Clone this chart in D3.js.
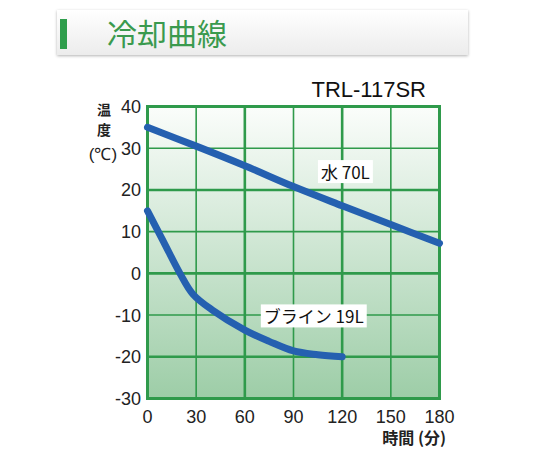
<!DOCTYPE html>
<meta charset="utf-8">
<style>
body { margin: 0; background: #fff; }
</style>
<script src="https://d3js.org/d3.v7.min.js"></script>
<body>
<script>

// values
var xTicks = [0, 30, 60, 90, 120, 150, 180];
var yTicks = [-30, -20, -10, 0, 10, 20, 30, 40];
var waterTime = [0, 30, 60, 90, 120, 150, 180];
var waterTemp = [35, 30.5, 25.8, 20.8, 16.2, 11.7, 7.2];
var brineTime = [0, 10, 20, 28, 40, 60, 75, 90, 105, 120];
var brineTemp = [15, 7.5, 0, -5, -8.8, -13.6, -16.3, -18.6, -19.5, -20];

var jp = "'Noto Sans CJK JP', 'Noto Sans', sans-serif";
var num = "'Liberation Sans', Arial, sans-serif";

var w = 540, h = 450;
var svg = d3.select("body").append("svg")
  .attr("width", w)
  .attr("height", h);

var defs = svg.append("defs");
var hg = defs.append("linearGradient").attr("id", "hdr")
  .attr("x1", 0).attr("y1", 0).attr("x2", 0).attr("y2", 1);
hg.append("stop").attr("offset", "0%").attr("stop-color", "#ffffff");
hg.append("stop").attr("offset", "100%").attr("stop-color", "#ececec");

var pg = defs.append("linearGradient").attr("id", "plotbg")
  .attr("x1", 0).attr("y1", 0).attr("x2", 0).attr("y2", 1);
pg.append("stop").attr("offset", "0%").attr("stop-color", "#fbfdfb");
pg.append("stop").attr("offset", "100%").attr("stop-color", "#9dcda7");

var sh = defs.append("filter").attr("id", "shadow")
  .attr("x", "-5%").attr("y", "-20%").attr("width", "110%").attr("height", "150%");
sh.append("feDropShadow").attr("dx", 0).attr("dy", 1).attr("stdDeviation", 1.5)
  .attr("flood-color", "#000").attr("flood-opacity", 0.3);

// header
svg.append("rect")
  .attr("x", 57).attr("y", 10).attr("width", 411).attr("height", 45)
  .attr("fill", "url(#hdr)")
  .attr("filter", "url(#shadow)");
svg.append("rect")
  .attr("x", 60).attr("y", 19).attr("width", 7).attr("height", 30)
  .attr("fill", "#2f9e4c");
svg.append("text")
  .attr("x", 107).attr("y", 45)
  .style("font-family", jp)
  .attr("font-size", "30px")
  .attr("fill", "#3a9a4e")
  .text("冷却曲線");

// model name
svg.append("text")
  .attr("x", 426).attr("y", 97)
  .attr("text-anchor", "end")
  .style("font-family", num)
  .attr("font-size", "22px")
  .attr("fill", "#111")
  .text("TRL-117SR");

var x = d3.scaleLinear().domain([0, 180]).range([147.5, 439.5]);
var y = d3.scaleLinear().domain([-30, 40]).range([398.5, 106.5]);

svg.append("rect")
  .attr("x", x(0)).attr("y", y(40))
  .attr("width", x(180) - x(0)).attr("height", y(-30) - y(40))
  .attr("fill", "url(#plotbg)");

var grid = svg.append("g").attr("stroke", "#2f9a4b").attr("fill", "none");
grid.selectAll("line.v")
  .data(xTicks.slice(1, -1))
  .enter().append("line")
  .attr("x1", function(d) { return x(d); })
  .attr("x2", function(d) { return x(d); })
  .attr("y1", y(40)).attr("y2", y(-30))
  .attr("stroke-width", function(d) { return d % 60 == 0 ? 2.6 : 1.6; });
grid.selectAll("line.h")
  .data(yTicks.slice(1, -1))
  .enter().append("line")
  .attr("y1", function(d) { return y(d); })
  .attr("y2", function(d) { return y(d); })
  .attr("x1", x(0)).attr("x2", x(180))
  .attr("stroke-width", function(d) { return d % 20 == 0 ? 2.6 : 1.6; });
grid.append("rect")
  .attr("x", x(0)).attr("y", y(40))
  .attr("width", x(180) - x(0)).attr("height", y(-30) - y(40))
  .attr("stroke-width", 3);

// tick labels
svg.append("g").selectAll("text")
  .data(yTicks)
  .enter().append("text")
  .attr("x", 141)
  .attr("y", function(d) { return y(d) + 6.5; })
  .attr("text-anchor", "end")
  .style("font-family", num)
  .attr("font-size", "18px")
  .attr("fill", "#222")
  .text(function(d) { return d; });
svg.append("g").selectAll("text")
  .data(xTicks)
  .enter().append("text")
  .attr("x", function(d) { return x(d); })
  .attr("y", 423)
  .attr("text-anchor", "middle")
  .style("font-family", num)
  .attr("font-size", "18px")
  .attr("fill", "#222")
  .text(function(d) { return d; });

// axis titles
svg.append("text").attr("x", 104).attr("y", 115)
  .attr("text-anchor", "middle").style("font-family", jp)
  .attr("font-size", "14px").attr("font-weight", "bold")
  .attr("fill", "#222").text("温");
svg.append("text").attr("x", 104).attr("y", 135)
  .attr("text-anchor", "middle").style("font-family", jp)
  .attr("font-size", "14px").attr("font-weight", "bold")
  .attr("fill", "#222").text("度");
svg.append("text").attr("x", 103).attr("y", 160)
  .attr("text-anchor", "middle").style("font-family", num)
  .attr("font-size", "17px")
  .attr("fill", "#222").text("(℃)");
svg.append("text").attr("x", 446).attr("y", 444)
  .attr("text-anchor", "end").style("font-family", jp)
  .attr("font-size", "16px").attr("font-weight", "bold")
  .attr("fill", "#222").text("時間 (分)");

// curves
var line = d3.line()
  .x(function(d) { return x(d[0]); })
  .y(function(d) { return y(d[1]); })
  .curve(d3.curveCatmullRom);

var water = d3.zip(waterTime, waterTemp);
var brine = d3.zip(brineTime, brineTemp);

[water, brine].forEach(function(s) {
  svg.append("path")
    .datum(s)
    .attr("d", line)
    .attr("fill", "none")
    .attr("stroke", "#2560b0")
    .attr("stroke-width", 7)
    .attr("stroke-linecap", "round")
    .attr("stroke-linejoin", "round");
});

// series labels with white backing
function label(txt, cx, cy) {
  var g = svg.append("g");
  var t = g.append("text")
    .attr("x", cx).attr("y", cy)
    .attr("text-anchor", "middle")
    .style("font-family", jp)
    .attr("font-size", "17px")
    .attr("fill", "#111")
    .text(txt);
  var b = t.node().getBBox();
  g.insert("rect", "text")
    .attr("x", b.x - 3).attr("y", b.y + 1)
    .attr("width", b.width + 6).attr("height", b.height - 2)
    .attr("fill", "#fff");
}
label("水 70L", x(122), y(22.6));
label("ブライン 19L", x(102.5), y(-12));

</script>
</body>
